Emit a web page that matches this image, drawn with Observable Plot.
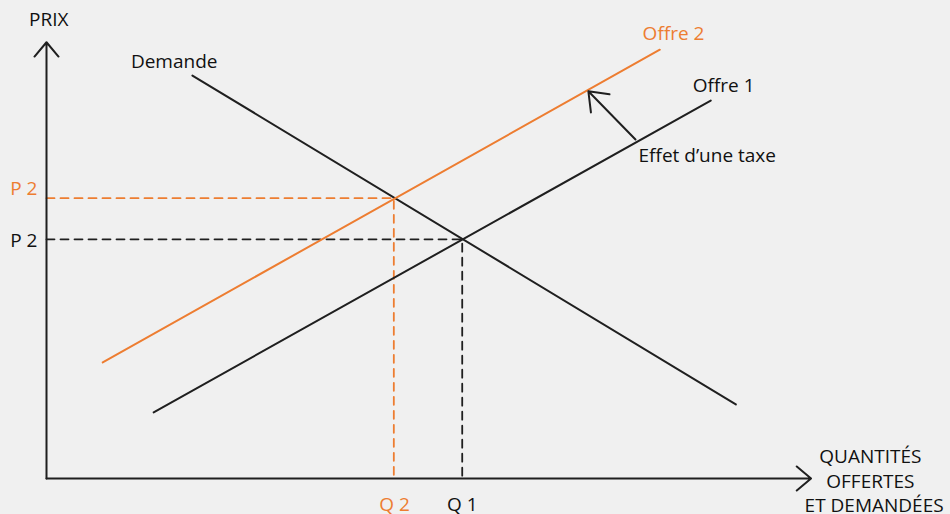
<!DOCTYPE html>
<html>
<head>
<meta charset="utf-8">
<script src="https://cdn.jsdelivr.net/npm/d3@7"></script>
<script src="https://cdn.jsdelivr.net/npm/@observablehq/plot@0.6"></script>
<style>
  html, body { margin: 0; padding: 0; background: #f0f0f0; }
  #chart svg { display: block; }
</style>
</head>
<body>
<div id="chart"></div>
<script>
// Curves (quantity, price) in arbitrary units
const demande = [{q: 19.2, p: 92.0}, {q: 90.7, p: 16.9}];
const offre1  = [{q: 14.1, p: 15.1}, {q: 87.4, p: 86.3}];
const offre2  = [{q: 7.4,  p: 26.5}, {q: 80.7, p: 97.9}];
// Equilibria
const equilibre1 = {q: 54.7, p: 54.6};
const equilibre2 = {q: 45.7, p: 64.0};
// Tax effect arrow
const taxArrow = [{q1: 77.5, p1: 77.4, q2: 71.3, p2: 88.4}];
// Axis extents
const axisMaxQ = 100.6, axisMaxP = 99.6;
// Text labels
const labels = [
  {text: "PRIX", q: 0.3, p: 104.6, color: "black", anchor: "middle"},
  {text: "Demande", q: 16.8, p: 95.0, color: "black", anchor: "middle"},
  {text: "Offre 2", q: 82.5, p: 101.6, color: "orange", anchor: "middle"},
  {text: "Offre 1", q: 89.1, p: 89.7, color: "black", anchor: "middle"},
  {text: "Effet d\u2019une taxe", q: 77.9, p: 73.7, color: "black", anchor: "start"},
  {text: "P 2", q: -1.2, p: 66.2, color: "orange", anchor: "end"},
  {text: "P 2", q: -1.2, p: 54.3, color: "black", anchor: "end"},
  {text: "Q 2", q: 45.8, p: -6.1, color: "orange", anchor: "middle"},
  {text: "Q 1", q: 54.7, p: -6.1, color: "black", anchor: "middle"},
  {text: "QUANTITÉS", q: 108.4, p: 4.9, color: "black", anchor: "middle"},
  {text: "OFFERTES", q: 108.4, p: -0.7, color: "black", anchor: "middle"},
  {text: "ET DEMANDÉES", q: 108.9, p: -6.3, color: "black", anchor: "middle"}
];

const ORANGE = "#ed7d31";
const DARK = "#1f1f1f";
const col = c => c === "orange" ? ORANGE : "#111";

const textMarks = ["start", "middle", "end"].map(a =>
  Plot.text(labels.filter(d => d.anchor === a), {
    x: "q", y: "p", text: "text", fill: d => col(d.color), textAnchor: a, fontSize: 19
  })
);

const chart = Plot.plot({
  width: 950,
  height: 514,
  margin: 0,
  style: {background: "#f0f0f0", fontFamily: "'Open Sans', Lato, sans-serif"},
  x: {domain: [0, 100], range: [46, 806], axis: null},
  y: {domain: [0, 100], range: [478, 40], axis: null},
  marks: [
    // dashed guides
    Plot.line([{q: 0, p: equilibre2.p}, {q: equilibre2.q, p: equilibre2.p}, {q: equilibre2.q, p: 0}],
      {x: "q", y: "p", stroke: ORANGE, strokeWidth: 1.8, strokeDasharray: "8,6"}),
    Plot.line([{q: 0, p: equilibre1.p}, {q: equilibre1.q, p: equilibre1.p}, {q: equilibre1.q, p: 0}],
      {x: "q", y: "p", stroke: DARK, strokeWidth: 1.8, strokeDasharray: "8,6"}),
    // curves
    Plot.line(demande, {x: "q", y: "p", stroke: DARK, strokeWidth: 2}),
    Plot.line(offre1, {x: "q", y: "p", stroke: DARK, strokeWidth: 2}),
    Plot.line(offre2, {x: "q", y: "p", stroke: ORANGE, strokeWidth: 2}),
    // tax arrow
    Plot.arrow(taxArrow, {x1: "q1", y1: "p1", x2: "q2", y2: "p2", stroke: DARK, strokeWidth: 2, headLength: 16, headAngle: 75}),
    // axes
    Plot.arrow([{x1: 0, y1: 0, x2: 0, y2: axisMaxP}], {x1: "x1", y1: "y1", x2: "x2", y2: "y2", stroke: DARK, strokeWidth: 2, headLength: 14, headAngle: 80}),
    Plot.arrow([{x1: 0, y1: 0, x2: axisMaxQ, y2: 0}], {x1: "x1", y1: "y1", x2: "x2", y2: "y2", stroke: DARK, strokeWidth: 2, headLength: 14, headAngle: 80}),
    // labels
    ...textMarks
  ]
});
document.getElementById("chart").appendChild(chart);
</script>
</body>
</html>
